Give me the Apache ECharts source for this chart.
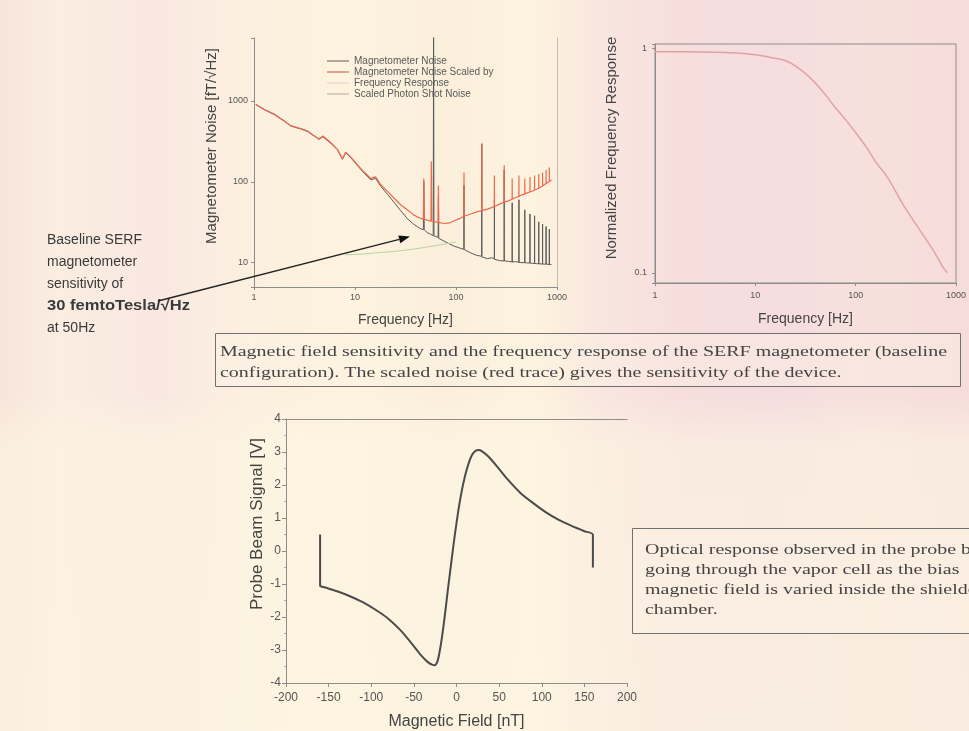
<!DOCTYPE html>
<html><head><meta charset="utf-8">
<script src="https://cdn.jsdelivr.net/npm/echarts@6/dist/echarts.min.js"></script>
<style>html,body{margin:0;padding:0;background:#fbefe2}#c{width:969px;height:731px}</style>
</head><body><div id="c"></div>
<script>
// ---------- data ----------
const freqTicks = [1, 10, 100, 1000];
const noiseTicks = [10, 100, 1000];
const responseTicks = [0.1, 1];
const legendNames = ['Magnetometer Noise', 'Magnetometer Noise Scaled by', 'Frequency Response', 'Scaled Photon Shot Noise'];

// [frequency Hz, noise fT/sqrt(Hz)]
const magNoise = [[1.04,900],[1.26,780],[1.58,680],[2.0,560],[2.31,490],[2.9,450],[3.37,420],[3.93,370],[4.4,335],[4.8,360],[5.74,300],[6.7,250],[7.5,190],[8.1,228],[9.1,198],[10.6,158],[12.3,128],[14.3,106],[16,110],[18,88],[21,70],[24.3,56],[28.3,44],[33,35],[38,30],[44,26.5],[47.5,25.5],[48,100],[48.5,25.5],[52,23.5],[56,22.5],[59.5,21.5],[60,9000],[60.5,21.5],[66.5,20.5],[67,65],[67.5,20],[76,18.5],[86,17],[96,16],[108,15.2],[119.5,14.6],[120,90],[120.5,14.5],[140,13.2],[160,12.3],[179.5,12],[180,290],[180.5,11.8],[205,11.2],[225,11.5],[239.5,11.2],[240,60],[240.5,11],[270,10.6],[299.5,10.5],[300,140],[300.5,10.5],[330,10.4],[359.5,10.2],[360,55],[360.5,10.2],[390,10.3],[419.5,10.1],[420,60],[420.5,10.1],[450,10],[479.5,10],[480,45],[480.5,10],[510,9.9],[539.5,9.9],[540,40],[540.5,9.9],[570,9.8],[599.5,9.8],[600,38],[600.5,9.8],[630,9.7],[659.5,9.7],[660,32],[660.5,9.7],[690,9.7],[719.5,9.6],[720,30],[720.5,9.6],[750,9.6],[779.5,9.6],[780,28],[780.5,9.6],[810,9.5],[839.5,9.5],[840,26],[840.5,9.5],[880,9.5]];
const magNoiseScaled = [[1.04,910],[1.26,790],[1.58,690],[2.0,565],[2.31,495],[2.9,455],[3.37,428],[3.93,372],[4.4,338],[4.8,368],[5.74,306],[6.7,252],[7.5,192],[8.1,232],[9.1,202],[10.6,162],[12.3,132],[14.3,110],[16,115],[18,92],[21,76],[24.3,63],[28.3,52],[33,45],[38,39],[44,35.5],[47.5,34.5],[48,110],[48.5,34.5],[52,33.5],[56.5,32.5],[57,180],[57.5,32.5],[66.5,31.5],[67,90],[67.5,31.5],[76,30.5],[86,31],[96,33],[108,35],[119.5,37.5],[120,130],[120.5,37.5],[140,40],[160,42.5],[179.5,44],[180,300],[180.5,44],[205,46],[225,48],[239.5,49.5],[240,120],[240.5,49.5],[270,53],[299.5,56],[300,160],[300.5,56],[330,58],[359.5,61],[360,110],[360.5,61],[390,64],[419.5,66],[420,120],[420.5,66],[450,69],[479.5,71],[480,110],[480.5,71],[510,73],[539.5,75],[540,115],[540.5,75],[570,77],[599.5,79],[600,120],[600.5,79],[630,81],[659.5,83],[660,125],[660.5,83],[690,86],[719.5,89],[720,130],[720.5,89],[750,92],[779.5,95],[780,140],[780.5,95],[810,98],[839.5,101],[840,150],[840.5,101],[880,105]];
const shotNoise = [[8,12.5],[12,12.8],[16,13.2],[25,13.8],[35,14.5],[50,15.5],[70,16.6],[100,18]];

// [frequency Hz, normalized response]
const freqResponse = [[1,0.97],[2,0.97],[3,0.968],[5,0.962],[7,0.955],[10,0.94],[15,0.91],[21,0.877],[31,0.78],[45,0.66],[60,0.56],[80,0.48],[97,0.43],[130,0.36],[160,0.31],[204,0.27],[300,0.2],[436,0.155],[600,0.125],[740,0.106],[820,0.1]];

// [magnetic field nT, probe beam signal V]
const probeSignal = [[-160,0.5],[-160,-1.05],[-155,-1.1],[-140,-1.22],[-125,-1.37],[-110,-1.55],[-95,-1.78],[-80,-2.05],[-65,-2.42],[-52,-2.82],[-42,-3.15],[-34,-3.36],[-28,-3.45],[-25,-3.46],[-22,-3.32],[-18,-2.78],[-14,-2.02],[-10,-1.15],[-6,-0.32],[-2,0.48],[2,1.2],[6,1.8],[10,2.27],[14,2.64],[18,2.9],[22,3.03],[26,3.06],[30,3.02],[38,2.85],[48,2.55],[60,2.17],[75,1.76],[90,1.45],[105,1.17],[120,0.94],[135,0.76],[150,0.6],[160,0.5],[160,-0.5]];

const arrowTarget = [35, 21];

const noteLines = ['Baseline SERF', 'magnetometer', 'sensitivity of', '30 femtoTesla/\u221AHz', 'at 50Hz'];
const caption1 = ['Magnetic field sensitivity and the frequency response of the SERF magnetometer (baseline',
                  'configuration). The scaled noise (red trace) gives the sensitivity of the device.'];
const caption2 = ['Optical response observed in the probe beam', 'going through the vapor cell as the bias',
                  'magnetic field is varied inside the shielded', 'chamber.'];

// ---------- chart ----------
const SANS = "'Liberation Sans', Arial, sans-serif";
const SERIF = "'Liberation Serif', 'Times New Roman', serif";
const AX = '#8c8c8c', LB = '#555', TT = '#444';

function decade(v) {
  const l = Math.log10(v);
  if (Math.abs(l - Math.round(l)) > 1e-6) return '';
  return String(+Math.pow(10, Math.round(l)).toPrecision(1));
}
function measure(text, font) {
  const c = document.createElement('canvas').getContext('2d');
  c.font = font;
  return c.measureText(text).width;
}

const chart = echarts.init(document.getElementById('c'));

const logX = (grid, labelMargin, gap) => ({
  type: 'log', gridIndex: grid, min: freqTicks[0], max: freqTicks[freqTicks.length - 1],
  name: 'Frequency [Hz]', nameLocation: 'middle', nameGap: gap,
  nameTextStyle: { fontFamily: SANS, fontSize: 14, color: TT },
  axisLine: { show: true, lineStyle: { color: AX } },
  axisTick: { show: true, length: 3, lineStyle: { color: AX } },
  axisLabel: { margin: labelMargin, fontFamily: SANS, fontSize: 9, color: LB,
    formatter: v => freqTicks.some(t => Math.abs(t - v) / t < 1e-6) ? decade(v) : '' },
  splitLine: { show: false }
});

const option = {
  animation: false,
  grid: [
    { left: 254, top: 38, width: 303, height: 249 },
    { left: 655, top: 44, width: 302, height: 239, show: true, borderColor: AX, borderWidth: 1, backgroundColor: 'rgba(0,0,0,0)' },
    { left: 286, top: 419, width: 341, height: 264 }
  ],
  legend: {
    data: legendNames, orient: 'vertical', left: 322, top: 51, itemGap: 1, icon: 'rect',
    itemWidth: 22, itemHeight: 1.5, textStyle: { fontFamily: SANS, fontSize: 10, color: '#5a5a5a' }
  },
  xAxis: [
    logX(0, 6, 26),
    logX(1, 8, 29),
    { type: 'value', gridIndex: 2, min: -200, max: 200, interval: 50,
      name: 'Magnetic Field [nT]', nameLocation: 'middle', nameGap: 31,
      nameTextStyle: { fontFamily: SANS, fontSize: 16, color: TT },
      axisLine: { onZero: false, lineStyle: { color: AX } },
      axisTick: { length: 4, lineStyle: { color: AX } },
      axisLabel: { margin: 9, fontFamily: SANS, fontSize: 12, color: LB },
      splitLine: { show: false } },
    { type: 'value', gridIndex: 2, min: -200, max: 200, position: 'top',
      axisLine: { onZero: false, lineStyle: { color: AX } }, axisTick: { show: false },
      axisLabel: { show: false }, splitLine: { show: false } }
  ],
  yAxis: [
    { type: 'log', gridIndex: 0, min: 5, max: 6000,
      axisLine: { show: true, lineStyle: { color: AX } },
      axisTick: { show: true, length: 3, lineStyle: { color: AX } },
      axisLabel: { margin: 6, fontFamily: SANS, fontSize: 9, color: LB,
        formatter: v => noiseTicks.some(t => Math.abs(t - v) / t < 1e-6) ? decade(v) : '' },
      splitLine: { show: false } },
    { type: 'log', gridIndex: 0, min: 5, max: 6000, position: 'right',
      axisLine: { show: true, lineStyle: { color: '#c4bab2' } }, axisTick: { show: false },
      axisLabel: { show: false }, splitLine: { show: false } },
    { type: 'log', gridIndex: 1, min: 0.09, max: 1.05,
      axisLine: { show: true, lineStyle: { color: AX } },
      axisTick: { show: true, length: 3, lineStyle: { color: AX } },
      axisLabel: { margin: 8, fontFamily: SANS, fontSize: 9, color: LB,
        formatter: v => responseTicks.some(t => Math.abs(t - v) / t < 1e-6) ? decade(v) : '' },
      splitLine: { show: false } },
    { type: 'value', gridIndex: 2, min: -4, max: 4, interval: 1,
      axisLine: { show: true, onZero: false, lineStyle: { color: AX } },
      axisTick: { show: true, length: 4, lineStyle: { color: AX } },
      minorTick: { show: true, splitNumber: 2, length: 2, lineStyle: { color: '#aaa' } },
      axisLabel: { margin: 5, fontFamily: SANS, fontSize: 12, color: LB },
      splitLine: { show: false } }
  ],
  series: [
    { name: legendNames[0], type: 'line', xAxisIndex: 0, yAxisIndex: 0, data: magNoise,
      symbol: 'none', lineStyle: { width: 1, color: '#5a5a5a' }, itemStyle: { color: '#9a8c86' } },
    { name: legendNames[1], type: 'line', xAxisIndex: 0, yAxisIndex: 0, data: magNoiseScaled,
      symbol: 'none', lineStyle: { width: 1.2, color: '#ec6a4e' }, itemStyle: { color: '#e0857a' } },
    { name: legendNames[3], type: 'line', xAxisIndex: 0, yAxisIndex: 0, data: shotNoise,
      symbol: 'none', lineStyle: { width: 1, color: '#b6d3a6' }, itemStyle: { color: '#c9c0ba' } },
    { name: legendNames[2], type: 'line', xAxisIndex: 1, yAxisIndex: 2, data: freqResponse,
      symbol: 'none', smooth: 0.3, lineStyle: { width: 1.5, color: '#e0a3a3' }, itemStyle: { color: '#f1d9cf' } },
    { name: 'Probe Beam Signal', type: 'line', xAxisIndex: 2, yAxisIndex: 3, data: probeSignal,
      symbol: 'none', smooth: 0.2, lineStyle: { width: 2, color: '#4b4b4b' } }
  ]
};
chart.setOption(option);

// ---------- annotations ----------
const capFont = '15px ' + SERIF;
const capScale = 727 / measure(caption1[0], capFont);
const boldFont = 'bold 15px ' + SANS;
const boldScale = 143 / measure(noteLines[3], boldFont);

const tip = chart.convertToPixel({ xAxisIndex: 0, yAxisIndex: 0 }, arrowTarget);
const start = [158, 301];
const ang = Math.atan2(tip[1] - start[1], tip[0] - start[0]);
const hl = 11, hw = 4;
const base = [tip[0] - hl * Math.cos(ang), tip[1] - hl * Math.sin(ang)];
const head = [tip, [base[0] + hw * Math.sin(ang), base[1] - hw * Math.cos(ang)], [base[0] - hw * Math.sin(ang), base[1] + hw * Math.cos(ang)]];

const g = [];
g.push({ type: 'rect', z: -10, silent: true, shape: { x: 0, y: 0, width: 969, height: 731 },
  style: { fill: new echarts.graphic.LinearGradient(0, 0, 1, 0, [
    { offset: 0, color: '#f8e4da' }, { offset: 0.06, color: '#fbede1' }, { offset: 0.16, color: '#f9e8e1' },
    { offset: 0.26, color: '#fcf0e0' }, { offset: 0.36, color: '#fdf3de' }, { offset: 0.46, color: '#fbefdc' },
    { offset: 0.55, color: '#fdf3de' }, { offset: 0.62, color: '#f9e6df' }, { offset: 0.7, color: '#f7dedd' },
    { offset: 0.8, color: '#f5dddf' }, { offset: 0.9, color: '#f7e0dc' }, { offset: 1, color: '#f6dcdb' }]) } });
g.push({ type: 'rect', z: -9, silent: true, shape: { x: 0, y: 395, width: 969, height: 336 },
  style: { fill: new echarts.graphic.LinearGradient(0, 0, 0, 1, [
    { offset: 0, color: 'rgba(252,246,226,0)' }, { offset: 0.15, color: 'rgba(252,246,226,0.55)' }, { offset: 1, color: 'rgba(252,246,226,0.6)' }]) } });

// rotated axis titles
g.push({ type: 'text', z: 5, x: 212, y: 146, rotation: Math.PI / 2,
  style: { text: 'Magnetometer Noise [fT/\u221AHz]', fill: TT, font: '15px ' + SANS, align: 'center', verticalAlign: 'middle' } });
g.push({ type: 'text', z: 5, x: 612, y: 148, rotation: Math.PI / 2,
  style: { text: 'Normalized Frequency Response', fill: TT, font: '15px ' + SANS, align: 'center', verticalAlign: 'middle' } });
g.push({ type: 'text', z: 5, x: 257, y: 524, rotation: Math.PI / 2,
  style: { text: 'Probe Beam Signal [V]', fill: TT, font: '17px ' + SANS, align: 'center', verticalAlign: 'middle' } });

noteLines.forEach((t, i) => g.push({ type: 'text', z: 5, x: 47, y: 240 + i * 22, scaleX: i === 3 ? boldScale : 1,
  style: { text: t, fill: '#3a3a3a', font: i === 3 ? boldFont : '14px ' + SANS, verticalAlign: 'middle' } }));

g.push({ type: 'line', z: 6, shape: { x1: start[0], y1: start[1], x2: base[0], y2: base[1] }, style: { stroke: '#222', lineWidth: 1.3 } });
g.push({ type: 'polygon', z: 6, shape: { points: head }, style: { fill: '#111' } });

g.push({ type: 'rect', z: 4, shape: { x: 215.5, y: 333.5, width: 745, height: 53 }, style: { fill: 'rgba(253,244,230,0.35)', stroke: '#707070', lineWidth: 1 } });
caption1.forEach((t, i) => g.push({ type: 'text', z: 5, x: 220, y: 352 + i * 21, scaleX: capScale,
  style: { text: t, fill: '#444', font: capFont, verticalAlign: 'middle' } }));

g.push({ type: 'rect', z: 4, shape: { x: 632.5, y: 528.5, width: 400, height: 105 }, style: { fill: 'rgba(253,244,230,0.35)', stroke: '#707070', lineWidth: 1 } });
caption2.forEach((t, i) => g.push({ type: 'text', z: 5, x: 645, y: 550 + i * 20, scaleX: capScale,
  style: { text: t, fill: '#444', font: capFont, verticalAlign: 'middle' } }));

chart.setOption({ graphic: g });
</script>
</body></html>
